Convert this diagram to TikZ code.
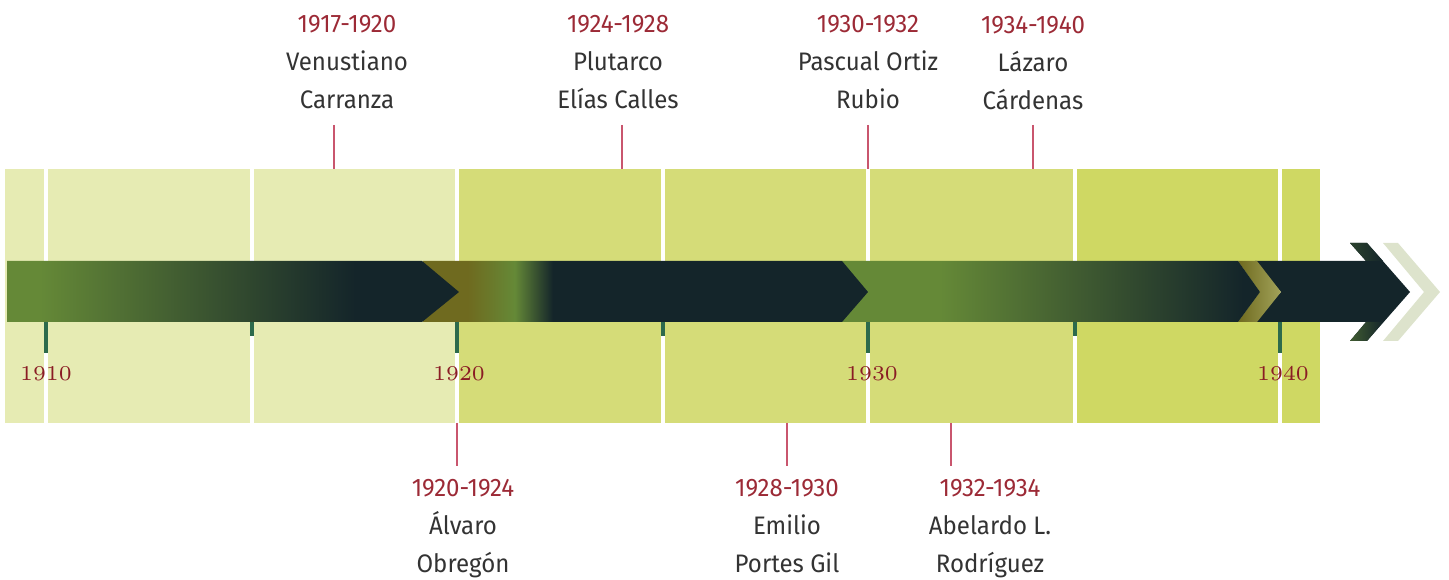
\documentclass[tikz,border=0pt]{standalone}
\usepackage{fontspec}
\newfontfamily\presfont[FakeStretch=0.95]{Fira Sans}
\definecolor{cbandA}{HTML}{E6EBB3}
\definecolor{cbandB}{HTML}{D5DC78}
\definecolor{cbandC}{HTML}{CFD863}
\definecolor{cgreen}{HTML}{658937}
\definecolor{cdark}{HTML}{14252A}
\definecolor{colive}{HTML}{6F6A1F}
\definecolor{colivel}{HTML}{A2A35A}
\definecolor{cpale}{HTML}{DDE3CC}
\definecolor{ctick}{HTML}{2D6A4C}
\definecolor{cred}{HTML}{9C2A36}
\definecolor{cyear}{HTML}{8A1C24}
\definecolor{cink}{HTML}{333333}
\definecolor{cpink}{HTML}{C9566E}
% one shading per stretch of the arrow (bounding box maps to 25bp--75bp)
\pgfdeclarehorizontalshading{stretchone}{100bp}{color(0bp)=(cgreen); color(28.6bp)=(cgreen); color(63.5bp)=(cdark); color(100bp)=(cdark)}
\pgfdeclarehorizontalshading{stretchtwo}{100bp}{color(0bp)=(colive); color(30bp)=(colive); color(35.3bp)=(cgreen); color(39.6bp)=(cdark); color(100bp)=(cdark)}
\pgfdeclarehorizontalshading{stretchthree}{100bp}{color(0bp)=(cgreen); color(36.7bp)=(cgreen); color(73bp)=(cdark); color(100bp)=(cdark)}
\tikzset{
  sep/.style={draw=white, line width=0.9pt},
  tickmark/.style={draw=ctick, line width=1.1pt},
  yearlbl/.style={text=cyear, font=\fontsize{6}{7}\selectfont, inner sep=0pt},
  pres/.style={align=center, text=cink, inner sep=0pt, anchor=north, font=\presfont\fontsize{7.2}{10.8}\selectfont},
  conn/.style={draw=cpink, line width=0.4pt},
}

\begin{document}
\begin{tikzpicture}[x=0.01cm, y=-0.01cm]
  \useasboundingbox (0,0) rectangle (1449,580);
  % background band
  \fill[cbandA] (5,169) rectangle (457,423);
  \fill[cbandB] (457,169) rectangle (1075,423);
  \fill[cbandC] (1075,169) rectangle (1320,423);
  \draw[sep] (46,169) -- (46,423);
  \draw[sep] (252,169) -- (252,423);
  \draw[sep] (457,169) -- (457,423);
  \draw[sep] (663,169) -- (663,423);
  \draw[sep] (868,169) -- (868,423);
  \draw[sep] (1075,169) -- (1075,423);
  \draw[sep] (1280,169) -- (1280,423);
  % last stretch and head
  \fill[cdark] (1255,261) -- (1366,261) -- (1350,243) -- (1367,243) -- (1410,292) -- (1367,341) -- (1350,341) -- (1366,322) -- (1255,322) -- (1281,292) -- cycle;
  \shade[left color=cdark!70!cgreen, right color=cdark] (1350,243) -- (1367,243) -- (1383,261) -- (1366,261) -- cycle;
  \shade[left color=cdark!45!cgreen, right color=cdark] (1350,341) -- (1367,341) -- (1383,322) -- (1366,322) -- cycle;
  \fill[cpale] (1383,243) -- (1398,243) -- (1440,292) -- (1398,341) -- (1383,341) -- (1424,292) -- cycle;
  \shade[left color=colive, right color=colivel] (1238,261) -- (1257,261) -- (1281,292) -- (1257,322) -- (1238,322) -- (1260,292) -- cycle;
  % third, second and first stretch
  \shade[shading=stretchthree] (842,261) -- (1238,261) -- (1260,292) -- (1238,322) -- (842,322) -- cycle;
  \shade[shading=stretchtwo] (423,261) -- (842,261) -- (868,292) -- (842,322) -- (423,322) -- cycle;
  \shade[shading=stretchone] (7,261) -- (422,261) -- (459,292) -- (422,322) -- (7,322) -- cycle;
  % ticks and years
  \draw[tickmark] (46,322) -- (46,353);
  \draw[tickmark] (252,322) -- (252,336);
  \draw[tickmark] (457,322) -- (457,353);
  \draw[tickmark] (663,322) -- (663,336);
  \draw[tickmark] (868,322) -- (868,353);
  \draw[tickmark] (1075,322) -- (1075,336);
  \draw[tickmark] (1280,322) -- (1280,353);
  \node[yearlbl] (y1910) at (46,374) {1910};
  \node[yearlbl] (y1920) at (459,374) {1920};
  \node[yearlbl] (y1930) at (872,374) {1930};
  \node[yearlbl] (y1940) at (1283,374) {1940};
  % presidents
  \node[pres] (carranza) at (347,15) {\textcolor{cred}{1917-1920}\\Venustiano\\Carranza};
  \node[pres] (calles) at (618,15) {\textcolor{cred}{1924-1928}\\Plutarco\\Elías Calles};
  \node[pres] (ortiz) at (868,15) {\textcolor{cred}{1930-1932}\\Pascual Ortiz\\Rubio};
  \node[pres] (cardenas) at (1033,16) {\textcolor{cred}{1934-1940}\\Lázaro\\Cárdenas};
  \node[pres] (obregon) at (463,479) {\textcolor{cred}{1920-1924}\\Álvaro\\Obregón};
  \node[pres] (portes) at (787,479) {\textcolor{cred}{1928-1930}\\Emilio\\Portes Gil};
  \node[pres] (rodriguez) at (990,479) {\textcolor{cred}{1932-1934}\\Abelardo L.\\Rodríguez};
  \coordinate (top1917) at (334,169);
  \coordinate (top1924) at (622,169);
  \coordinate (top1930) at (868,169);
  \coordinate (top1934) at (1033,169);
  \coordinate (bot1920) at (457,423);
  \coordinate (bot1928) at (787,423);
  \coordinate (bot1932) at (951,423);
  \draw[conn] (top1917 |- 0,125) -- (top1917);
  \draw[conn] (top1924 |- 0,125) -- (top1924);
  \draw[conn] (top1930 |- 0,125) -- (top1930);
  \draw[conn] (top1934 |- 0,125) -- (top1934);
  \draw[conn] (bot1920) -- (bot1920 |- 0,466);
  \draw[conn] (bot1928) -- (bot1928 |- 0,466);
  \draw[conn] (bot1932) -- (bot1932 |- 0,466);
\end{tikzpicture}
\end{document}
